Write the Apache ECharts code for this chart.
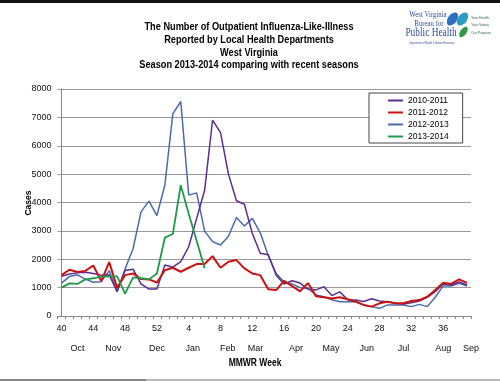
<!DOCTYPE html>
<html>
<head>
<meta charset="utf-8">
<script src="https://cdn.jsdelivr.net/npm/echarts@6/dist/echarts.min.js"></script>
<style>
html,body{margin:0;padding:0;background:#fff;}
#c{width:500px;height:381px;}
</style>
</head>
<body>
<div id="c"></div>
<script>
var weeks = [40,41,42,43,44,45,46,47,48,49,50,51,52,1,2,3,4,5,6,7,8,9,10,11,12,13,14,15,16,17,18,19,20,21,22,23,24,25,26,27,28,29,30,31,32,33,34,35,36,37,38,39];
var s2010 = [1400,1480,1520,1540,1500,1440,1450,860,1600,1650,1130,950,950,1800,1720,1920,2440,3440,4430,6900,6460,5000,4060,3940,2910,2210,2160,1440,1130,1240,1160,950,920,1030,720,850,570,560,510,610,530,505,450,420,470,530,660,860,1130,1090,1200,1090];
var s2011 = [1440,1630,1550,1590,1780,1230,1900,1000,1440,1500,1300,1290,1180,1610,1700,1560,1700,1830,1830,2110,1700,1910,1970,1680,1500,1440,940,915,1240,1050,870,1160,700,660,620,660,590,505,390,330,446,500,450,450,530,560,680,915,1170,1130,1290,1170];
var s2012 = [1160,1390,1450,1300,1190,1210,1600,860,1660,2370,3670,4050,3540,4610,7120,7560,4260,4340,2990,2620,2500,2810,3470,3170,3440,2930,2130,1500,1200,1130,1000,970,740,680,570,505,505,500,390,330,270,390,390,390,330,410,330,660,1060,1060,1150,1060];
var s2013 = [1000,1150,1130,1290,1330,1390,1400,1400,790,1360,1330,1290,1500,2760,2890,4610,3600,2650,1680];
var seriesNames = ['2010-2011','2011-2012','2012-2013','2013-2014'];
var monthNames = ['Oct','Nov','Dec','Jan','Feb','Mar','Apr','May','Jun','Jul','Aug','Sep'];
var monthPos = [2.0,6.5,12.0,16.5,20.9,24.4,29.5,33.9,38.4,43.0,48.0,51.5];
var titleLines = ['The Number of Outpatient Influenza-Like-Illness','Reported by Local Health Departments','West Virginia','Season 2013-2014 comparing with recent seasons'];

var FONT = '"Liberation Sans",Arial,sans-serif';
var SERIF = '"Liberation Serif","DejaVu Serif",serif';
var colors = ['#5a2d91','#cc1111','#4a6aae','#1e9a48'];

var chart = echarts.init(document.getElementById('c'), null, {renderer:'canvas'});
var weekLabels = weeks.map(String);
var monthMap = {};
monthPos.forEach(function(p,i){ monthMap[p.toFixed(1)] = monthNames[i]; });

var graphics = [
  {type:'rect',x:0,y:0,shape:{width:500,height:3},style:{fill:'#111'}},
  {type:'rect',x:0,y:379,shape:{width:500,height:2},style:{fill:'#bbb'}},
  {type:'rect',x:0,y:379,shape:{width:146,height:2},style:{fill:'#888'}},
  {type:'text',x:255,y:363,scaleX:0.85,style:{text:'MMWR Week',font:'bold 10px '+FONT,fill:'#000',align:'center',verticalAlign:'middle'}},
  {type:'text',x:28,y:203,rotation:Math.PI/2,scaleX:0.9,style:{text:'Cases',font:'bold 9.5px '+FONT,fill:'#000',align:'center',verticalAlign:'middle'}},
  {type:'text',x:428,y:15,scaleX:0.8,style:{text:'West Virginia',font:'8.5px '+SERIF,fill:'#2a4f9a',align:'center',verticalAlign:'middle'}},
  {type:'text',x:429,y:24,scaleX:0.8,style:{text:'Bureau for',font:'8.5px '+SERIF,fill:'#2a4f9a',align:'center',verticalAlign:'middle'}},
  {type:'text',x:431,y:33,scaleX:0.72,style:{text:'Public Health',font:'13px '+SERIF,fill:'#2a4f9a',align:'center',verticalAlign:'middle'}},
  {type:'text',x:432,y:43,scaleX:0.8,style:{text:'Department of Health & Human Resources',font:'3px '+FONT,fill:'#2a4f9a',align:'center',verticalAlign:'middle'}},
  {type:'polygon',shape:{points:[[448,25],[449,16],[457,13],[456,22]],smooth:0.5},style:{fill:'#2f6fc2'}},
  {type:'polygon',shape:{points:[[458,25],[459,16],[467,13],[466,22]],smooth:0.5},style:{fill:'#2a9bc4'}},
  {type:'polygon',shape:{points:[[460,37],[461,30],[467,27],[466,34]],smooth:0.5},style:{fill:'#2e9a45'}},
  {type:'text',x:471,y:18,style:{text:'Your Health',font:'3.5px '+FONT,fill:'#2a6a3a',verticalAlign:'middle'}},
  {type:'text',x:471,y:25,style:{text:'Your Safety',font:'3.5px '+FONT,fill:'#2a6a3a',verticalAlign:'middle'}},
  {type:'text',x:471,y:33,style:{text:'Our Purpose',font:'3.5px '+FONT,fill:'#2a6a3a',verticalAlign:'middle'}}
];
titleLines.forEach(function(t,i){
  graphics.push({type:'text',x:249,y:27+i*12.7,scaleX:0.8,style:{text:t,font:'bold 11.5px '+FONT,fill:'#000',align:'center',verticalAlign:'middle'}});
});

var option = {
  animation:false,
  backgroundColor:'#fff',
  color: colors,
  legend:{
    orient:'vertical', left:369, top:93,
    data:seriesNames,
    icon:'rect', itemWidth:15, itemHeight:2, itemGap:3,
    padding:[3,14,2,19],
    borderColor:'#444', borderWidth:1, backgroundColor:'#fff',
    textStyle:{fontFamily:FONT,fontSize:8.5,color:'#000'}
  },
  grid:{left:57.5,right:29,top:89,bottom:65,containLabel:false},
  xAxis:[{
    type:'category', data:weekLabels, boundaryGap:true,
    axisLine:{lineStyle:{color:'#888',width:1}},
    axisTick:{show:true,interval:0,length:3,lineStyle:{color:'#888'}},
    axisLabel:{interval:3,margin:8,fontFamily:FONT,fontSize:9,color:'#111'},
    splitLine:{show:false}
  },{
    type:'value', min:-0.5, max:51.5, position:'bottom', offset:22,
    axisLine:{show:false}, axisTick:{show:false}, splitLine:{show:false},
    axisLabel:{customValues:monthPos, margin:6, fontFamily:FONT, fontSize:9, color:'#111',
      formatter:function(v){ return monthMap[Number(v).toFixed(1)] || ''; }}
  }],
  yAxis:{
    type:'value', min:0, max:8000, interval:1000,
    axisLine:{show:true,lineStyle:{color:'#888'}},
    axisTick:{show:false},
    axisLabel:{fontFamily:FONT,fontSize:9,color:'#111',margin:6,formatter:function(v){return String(v);}},
    splitLine:{show:true,lineStyle:{color:'#999',width:1}}
  },
  series:[
    {name:seriesNames[0],type:'line',data:s2010,symbol:'none',lineStyle:{width:1.5,color:colors[0]},itemStyle:{color:colors[0]},z:3},
    {name:seriesNames[1],type:'line',data:s2011,symbol:'none',lineStyle:{width:2,color:colors[1]},itemStyle:{color:colors[1]},z:4},
    {name:seriesNames[2],type:'line',data:s2012,symbol:'none',lineStyle:{width:1.5,color:colors[2]},itemStyle:{color:colors[2]},z:2},
    {name:seriesNames[3],type:'line',data:s2013,symbol:'none',lineStyle:{width:1.8,color:colors[3]},itemStyle:{color:colors[3]},z:5}
  ],
  graphic:graphics
};
chart.setOption(option);
</script>
</body>
</html>
